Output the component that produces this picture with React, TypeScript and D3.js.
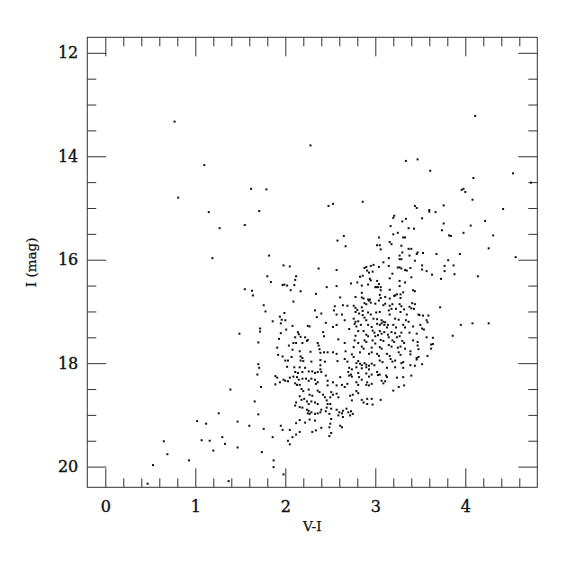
import React, { useEffect, useRef } from 'react'
import { select, scaleLinear, axisBottom, axisTop, axisLeft, axisRight, range } from 'd3'

// colour-magnitude diagram: [V-I, I]
const stars: [number, number][] = [
  [0.77, 13.33], [4.11, 13.22],
  [2.28, 13.79], [1.10, 14.17], [0.81, 14.80], [1.62, 14.63], [1.79, 14.64], [1.15, 15.08], [1.71, 15.06],
  [1.27, 15.39], [1.55, 15.33], [1.19, 15.97], [1.82, 15.92], [1.98, 16.11], [2.05, 16.13], [1.80, 16.32],
  [2.12, 16.32], [2.11, 16.39], [1.84, 16.43], [1.97, 16.49], [1.99, 16.48], [2.02, 16.50], [2.10, 16.49],
  [1.55, 16.57], [1.63, 16.60], [1.64, 16.69], [2.06, 16.59], [2.17, 16.61], [2.34, 16.66], [2.09, 16.81],
  [1.76, 16.88], [1.78, 17.00], [2.33, 16.98],
  [3.34, 14.09], [3.47, 14.06], [3.61, 14.28], [4.09, 14.42], [4.53, 14.33], [4.73, 14.51], [3.96, 14.65],
  [3.98, 14.63], [4.00, 14.69], [4.08, 14.84], [2.48, 14.96], [2.53, 14.92], [2.86, 14.88], [3.44, 14.96],
  [3.46, 15.00], [3.60, 15.04], [3.60, 15.07], [3.67, 15.08], [3.76, 14.95], [4.42, 15.02], [3.20, 15.19],
  [3.21, 15.15], [3.30, 15.26], [3.34, 15.21], [3.52, 15.20], [4.22, 15.25], [3.17, 15.35], [3.37, 15.39],
  [3.43, 15.40], [3.76, 15.30], [3.74, 15.43], [4.06, 15.34], [3.20, 15.51], [3.25, 15.48], [3.31, 15.57],
  [3.33, 15.57], [3.82, 15.53], [3.84, 15.54], [3.98, 15.48], [4.31, 15.53], [2.58, 15.63], [2.65, 15.54],
  [2.67, 15.74], [3.04, 15.57], [3.02, 15.72], [3.05, 15.72], [3.06, 15.80], [3.16, 15.66], [3.18, 15.70],
  [3.29, 15.73], [4.26, 15.78], [3.37, 15.79], [3.40, 15.79], [3.47, 15.86], [3.53, 15.87], [3.68, 15.89],
  [3.94, 15.89], [4.56, 15.95], [3.15, 15.97], [3.27, 15.92], [3.27, 15.99], [3.29, 15.99], [3.30, 15.86],
  [3.38, 15.92], [3.46, 15.89], [3.44, 16.02], [3.81, 16.01], [3.77, 16.12], [3.87, 16.11], [3.88, 16.28],
  [3.77, 16.22], [4.14, 16.32], [3.63, 16.29], [3.73, 16.37], [3.57, 16.22], [3.52, 16.19], [3.52, 16.11],
  [3.09, 16.05], [3.15, 16.12], [3.19, 16.27], [3.25, 16.15], [3.27, 16.15], [3.29, 16.17], [3.33, 16.20],
  [3.35, 16.21], [3.39, 16.16], [3.40, 16.34], [2.88, 16.16], [2.90, 16.14], [2.98, 16.10], [2.95, 16.12],
  [3.04, 16.14], [2.91, 16.21], [2.93, 16.25], [2.97, 16.23], [2.83, 16.33], [2.86, 16.31], [2.94, 16.37],
  [2.95, 16.40], [3.02, 16.41], [2.80, 16.44], [2.85, 16.50], [2.92, 16.48], [3.00, 16.53], [3.01, 16.53],
  [3.03, 16.53], [3.06, 16.53], [3.04, 16.47], [3.06, 16.59], [3.05, 16.68], [3.06, 16.74], [3.16, 16.36],
  [3.16, 16.58], [3.27, 16.41], [3.27, 16.51], [3.33, 16.44], [3.22, 16.69], [3.21, 16.70], [3.24, 16.67],
  [3.28, 16.67], [3.31, 16.63], [3.42, 16.59], [3.44, 16.61], [3.28, 16.74], [3.16, 16.75], [3.11, 16.72],
  [2.73, 16.46], [2.57, 16.51], [2.46, 16.53], [2.61, 16.73], [2.78, 16.72], [2.85, 16.73], [2.87, 16.75],
  [2.92, 16.77], [2.94, 16.77], [2.85, 16.64], [2.37, 16.17], [2.57, 16.20],
  [1.99, 17.03], [1.94, 17.10], [1.96, 17.16], [1.95, 17.23], [1.86, 17.19], [2.00, 17.17], [2.35, 17.11],
  [2.40, 17.04], [2.45, 17.22], [2.08, 17.28], [2.25, 17.28], [2.27, 17.29], [1.72, 17.33], [1.72, 17.39],
  [2.01, 17.35], [1.95, 17.42], [2.14, 17.40], [2.15, 17.44], [2.42, 17.40], [2.43, 17.48], [2.11, 17.50],
  [2.17, 17.49], [2.22, 17.50], [1.93, 17.53], [2.25, 17.55], [2.24, 17.57], [1.70, 17.60], [2.09, 17.61],
  [2.12, 17.61], [2.04, 17.66], [2.36, 17.61], [2.19, 17.61], [1.91, 17.70], [2.08, 17.74], [2.37, 17.66],
  [2.38, 17.73], [2.16, 17.77], [2.28, 17.78], [2.39, 17.80], [2.43, 17.79], [2.47, 17.79], [1.92, 17.84],
  [1.97, 17.87], [2.07, 17.88], [2.17, 17.87], [2.19, 17.90], [2.00, 17.95], [2.03, 17.95], [2.17, 17.95],
  [2.20, 17.96], [2.29, 17.97], [2.39, 17.94], [2.44, 17.97], [1.70, 18.02], [1.71, 18.09], [2.02, 18.07],
  [2.16, 18.08], [2.22, 18.09], [2.39, 18.04], [2.39, 18.12], [2.10, 18.08],
  [2.55, 16.90], [2.64, 16.88], [2.69, 16.89], [2.76, 16.89], [2.78, 16.93], [2.80, 16.97], [2.85, 16.92],
  [2.88, 16.84], [2.90, 16.86], [2.93, 16.79], [2.95, 16.83], [3.00, 16.85], [3.04, 16.79], [3.09, 16.88],
  [3.11, 16.85], [3.16, 16.89], [3.19, 16.86], [3.23, 16.95], [3.27, 16.86], [3.29, 16.90], [3.38, 16.91],
  [3.41, 16.84], [2.54, 16.98], [2.57, 17.06], [2.63, 17.06], [2.78, 17.01], [2.82, 17.04], [2.86, 16.99],
  [2.86, 17.07], [2.92, 17.02], [2.95, 17.06], [3.01, 17.02], [3.05, 17.01], [3.15, 16.98], [3.18, 16.95],
  [3.16, 17.06], [3.28, 17.01], [3.32, 16.96], [3.35, 17.06], [3.43, 16.95], [2.76, 17.14], [2.78, 17.20],
  [2.81, 17.19], [2.88, 17.12], [2.90, 17.17], [2.98, 17.14], [3.02, 17.15], [3.07, 17.17], [3.09, 17.20],
  [3.11, 17.21], [3.22, 17.14], [3.26, 17.16], [3.34, 17.17], [3.37, 17.20], [3.48, 17.06], [2.66, 17.17],
  [2.57, 17.26], [2.77, 17.24], [2.79, 17.29], [2.84, 17.26], [2.92, 17.26], [2.96, 17.30], [3.02, 17.24],
  [3.05, 17.26], [3.07, 17.23], [3.10, 17.26], [3.13, 17.31], [3.14, 17.26], [3.20, 17.26], [3.23, 17.31],
  [3.31, 17.26], [3.33, 17.31], [3.42, 17.29], [2.53, 17.30], [2.71, 17.34], [2.81, 17.38], [2.87, 17.38],
  [2.97, 17.37], [2.99, 17.41], [3.05, 17.38], [3.07, 17.43], [3.10, 17.40], [3.18, 17.40], [3.22, 17.42],
  [3.29, 17.41], [3.38, 17.41], [2.90, 17.45], [2.92, 17.48], [3.00, 17.48], [3.03, 17.46], [3.14, 17.45],
  [3.15, 17.50], [3.24, 17.50], [3.27, 17.48], [3.46, 17.43], [2.78, 17.47], [2.59, 17.54], [2.66, 17.61],
  [2.77, 17.56], [2.81, 17.61], [2.88, 17.56], [2.90, 17.59], [2.97, 17.56], [3.00, 17.62], [3.06, 17.55],
  [3.09, 17.57], [3.19, 17.56], [3.21, 17.59], [3.30, 17.57], [3.32, 17.61], [3.42, 17.56], [2.76, 17.69],
  [2.85, 17.68], [2.87, 17.72], [2.96, 17.70], [3.05, 17.69], [3.07, 17.72], [3.15, 17.65], [3.18, 17.68],
  [3.25, 17.70], [3.28, 17.68], [3.33, 17.72], [3.48, 17.73], [2.53, 17.79], [2.57, 17.82], [2.67, 17.77],
  [2.74, 17.83], [2.76, 17.88], [2.83, 17.79], [2.93, 17.82], [2.96, 17.79], [3.02, 17.82], [3.04, 17.86],
  [3.13, 17.82], [3.16, 17.86], [3.26, 17.79], [3.28, 17.84], [3.39, 17.83], [3.48, 17.88], [2.58, 17.96],
  [2.66, 17.92], [2.69, 17.97], [2.79, 18.00], [2.81, 17.96], [2.83, 18.01], [2.85, 18.04], [2.88, 18.00],
  [2.90, 18.03], [2.93, 18.05], [2.96, 18.01], [2.99, 18.04], [3.05, 17.95], [3.08, 17.98], [3.17, 17.92],
  [3.19, 17.97], [3.22, 17.95], [3.29, 18.00], [3.31, 17.98], [3.39, 18.04], [3.44, 18.05], [2.71, 18.09],
  [2.74, 18.12], [2.79, 18.08], [2.85, 18.10], [2.90, 18.08], [2.93, 18.12], [3.13, 18.09], [3.22, 18.08],
  [3.31, 18.09],
  [1.69, 18.22], [1.89, 18.25], [1.91, 18.28], [1.98, 18.32], [2.00, 18.34], [2.03, 18.35], [1.94, 18.37],
  [1.89, 18.41], [2.05, 18.28], [2.09, 18.26], [2.11, 18.17], [2.14, 18.19], [2.19, 18.17], [2.13, 18.27],
  [2.15, 18.32], [2.11, 18.39], [2.13, 18.42], [2.16, 18.42], [2.19, 18.30], [2.23, 18.30], [2.26, 18.34],
  [2.29, 18.30], [2.33, 18.32], [2.26, 18.16], [2.30, 18.16], [2.33, 18.19], [2.36, 18.17], [2.34, 18.40],
  [2.36, 18.37], [2.40, 18.17], [2.45, 18.24], [2.47, 18.34], [2.47, 18.43], [1.73, 18.46], [2.18, 18.50],
  [2.20, 18.54], [2.26, 18.51], [2.27, 18.61], [2.30, 18.63], [2.36, 18.53], [2.38, 18.56], [2.16, 18.64],
  [2.18, 18.71], [2.21, 18.69], [2.24, 18.74], [2.29, 18.74], [2.26, 18.79], [2.33, 18.76], [2.36, 18.79],
  [2.42, 18.61], [2.44, 18.66], [2.46, 18.72], [2.47, 18.79], [2.12, 18.76], [2.11, 18.82], [2.16, 18.85],
  [2.19, 18.86], [2.24, 18.90], [2.26, 18.92], [2.27, 18.98], [2.25, 18.97], [2.29, 18.95], [2.33, 18.98],
  [2.36, 18.97], [2.39, 18.95], [2.40, 18.90], [2.45, 18.93], [2.46, 18.86], [1.76, 19.27], [1.95, 19.21],
  [1.97, 19.29], [2.05, 19.29], [2.12, 19.16], [2.16, 19.10], [2.22, 19.15], [2.27, 19.09], [2.33, 19.11],
  [2.30, 19.33], [2.34, 19.30], [2.40, 19.25], [2.16, 19.33], [2.12, 19.38], [2.08, 19.43], [2.03, 19.50],
  [2.05, 19.57], [1.86, 19.43], [1.74, 19.72], [1.87, 19.88], [1.87, 20.01], [1.98, 20.15],
  [2.61, 18.27], [2.70, 18.17], [2.71, 18.24], [2.73, 18.22], [2.74, 18.26], [2.81, 18.19], [2.82, 18.27],
  [2.85, 18.32], [2.90, 18.20], [2.93, 18.26], [2.96, 18.22], [3.02, 18.17], [3.05, 18.22], [3.03, 18.23],
  [3.12, 18.24], [3.13, 18.27], [3.24, 18.28], [3.31, 18.27], [3.40, 18.24], [2.53, 18.37], [2.57, 18.43],
  [2.63, 18.42], [2.66, 18.46], [2.69, 18.40], [2.79, 18.37], [2.81, 18.42], [2.90, 18.42], [2.91, 18.37],
  [2.93, 18.43], [2.96, 18.40], [3.07, 18.34], [3.09, 18.39], [3.11, 18.35], [3.20, 18.53], [3.26, 18.46],
  [3.32, 18.43], [3.06, 18.71], [2.51, 18.56], [2.53, 18.61], [2.50, 18.66], [2.57, 18.59], [2.59, 18.66],
  [2.72, 18.63], [2.75, 18.61], [2.74, 18.72], [2.79, 18.54], [2.81, 18.58], [2.87, 18.76], [2.85, 18.71],
  [2.91, 18.69], [2.91, 18.79], [2.97, 18.80], [2.96, 18.69], [2.50, 18.79], [2.51, 18.88], [2.49, 18.98],
  [2.51, 19.08], [2.50, 19.17], [2.49, 19.24], [2.57, 18.90], [2.60, 18.95], [2.63, 18.97], [2.64, 18.92],
  [2.59, 19.01], [2.68, 18.88], [2.70, 18.95], [2.73, 18.93], [2.75, 18.98], [2.72, 19.01], [2.64, 19.04],
  [2.61, 19.21], [2.63, 19.24], [2.51, 19.35], [2.49, 19.41],
  [3.44, 16.86], [3.40, 16.94], [3.72, 16.92], [3.49, 17.07], [3.53, 17.08], [3.59, 17.08], [3.57, 17.17],
  [3.58, 17.21], [3.95, 17.26], [4.08, 17.23], [4.26, 17.23], [3.50, 17.26], [3.52, 17.33], [3.54, 17.35],
  [3.57, 17.50], [3.64, 17.51], [3.86, 17.47], [3.47, 17.59], [3.47, 17.66], [3.62, 17.64], [3.64, 17.63],
  [3.62, 17.72], [3.39, 17.77], [3.46, 17.90], [3.46, 17.93], [3.58, 17.86], [3.52, 18.02],
  [1.49, 17.43], [1.39, 18.51],
  [0.47, 20.33], [0.53, 19.97], [0.65, 19.51], [0.69, 19.76], [0.93, 19.88], [1.02, 19.12], [1.12, 19.17],
  [1.07, 19.49], [1.16, 19.50], [1.20, 19.69], [1.26, 18.97], [1.30, 19.43], [1.33, 19.56], [1.37, 20.28],
  [1.47, 19.13], [1.47, 19.63], [1.60, 19.21], [1.66, 18.74], [1.70, 18.99],
]

const xTicks = [0, 1, 2, 3, 4]
const yTicks = [12, 14, 16, 18, 20]
const xLabel = 'V-I'
const yLabel = 'I (mag)'

function App() {
  const ref = useRef<SVGSVGElement>(null)

  useEffect(() => {
    const width = 575, height = 575
    const left = 87.3, top = 37.3, w = 450, h = 450

    const svg = select(ref.current)
    svg.selectAll('*').remove()

    const x = scaleLinear().domain([-0.2, 4.8]).range([left, left + w])
    const y = scaleLinear().domain([11.7, 20.4]).range([top, top + h])

    const xMinor = range(0.2, 4.7, 0.2).filter(v => Math.abs(v - Math.round(v)) > 0.01)
    const yMinor = range(12, 20.1, 0.5).filter(v => v % 2 !== 0)

    const font = '"DejaVu Serif", serif'
    const ink = '#333'

    const style = (g, labels) => {
      g.select('.domain').remove()
      g.selectAll('line').attr('stroke', ink).attr('stroke-width', 1)
      if (labels) g.selectAll('text')
        .attr('font-family', font).attr('font-size', 16)
        .attr('fill', '#111').attr('stroke', '#111').attr('stroke-width', 0.35)
    }

    // ticks on every side, pointing inward
    svg.append('g').attr('transform', `translate(0,${top + h})`)
      .call(axisBottom(x).tickValues(xMinor).tickSize(-9).tickFormat(() => ''))
      .call(g => style(g, false))
    svg.append('g').attr('transform', `translate(0,${top + h})`)
      .call(axisBottom(x).tickValues(xTicks).tickSize(-19).tickPadding(13).tickFormat(d => String(d)))
      .call(g => style(g, true))
    svg.append('g').attr('transform', `translate(0,${top})`)
      .call(axisTop(x).tickValues(xMinor).tickSize(-9).tickFormat(() => ''))
      .call(g => style(g, false))
    svg.append('g').attr('transform', `translate(0,${top})`)
      .call(axisTop(x).tickValues(xTicks).tickSize(-19).tickFormat(() => ''))
      .call(g => style(g, false))

    svg.append('g').attr('transform', `translate(${left},0)`)
      .call(axisLeft(y).tickValues(yMinor).tickSize(-9).tickFormat(() => ''))
      .call(g => style(g, false))
    svg.append('g').attr('transform', `translate(${left},0)`)
      .call(axisLeft(y).tickValues(yTicks).tickSize(-19).tickPadding(9).tickFormat(d => String(d)))
      .call(g => style(g, true))
    svg.append('g').attr('transform', `translate(${left + w},0)`)
      .call(axisRight(y).tickValues(yMinor).tickSize(-9).tickFormat(() => ''))
      .call(g => style(g, false))
    svg.append('g').attr('transform', `translate(${left + w},0)`)
      .call(axisRight(y).tickValues(yTicks).tickSize(-19).tickFormat(() => ''))
      .call(g => style(g, false))

    svg.append('rect')
      .attr('x', left).attr('y', top).attr('width', w).attr('height', h)
      .attr('fill', 'none').attr('stroke', ink).attr('stroke-width', 1)

    svg.append('g').selectAll('rect')
      .data(stars)
      .enter()
      .append('rect')
      .attr('x', d => x(d[0]) - 1)
      .attr('y', d => y(d[1]) - 1)
      .attr('width', 2)
      .attr('height', 2)
      .attr('fill', '#111')

    svg.append('text')
      .attr('x', left + w / 2).attr('y', 531)
      .attr('text-anchor', 'middle')
      .attr('font-family', font).attr('font-size', 13.5).attr('fill', '#111')
      .attr('stroke', '#111').attr('stroke-width', 0.25)
      .text(xLabel)

    svg.append('text')
      .attr('transform', `translate(36,${top + h / 2}) rotate(-90)`)
      .attr('text-anchor', 'middle')
      .attr('font-family', font).attr('font-size', 13.5).attr('fill', '#111')
      .attr('stroke', '#111').attr('stroke-width', 0.25)
      .text(yLabel)

    svg.attr('width', width).attr('height', height)
  }, [])

  return (
    <svg ref={ref} style={{ position: 'absolute', left: 0, top: 0, background: '#fff' }}></svg>
  )
}

export default App
